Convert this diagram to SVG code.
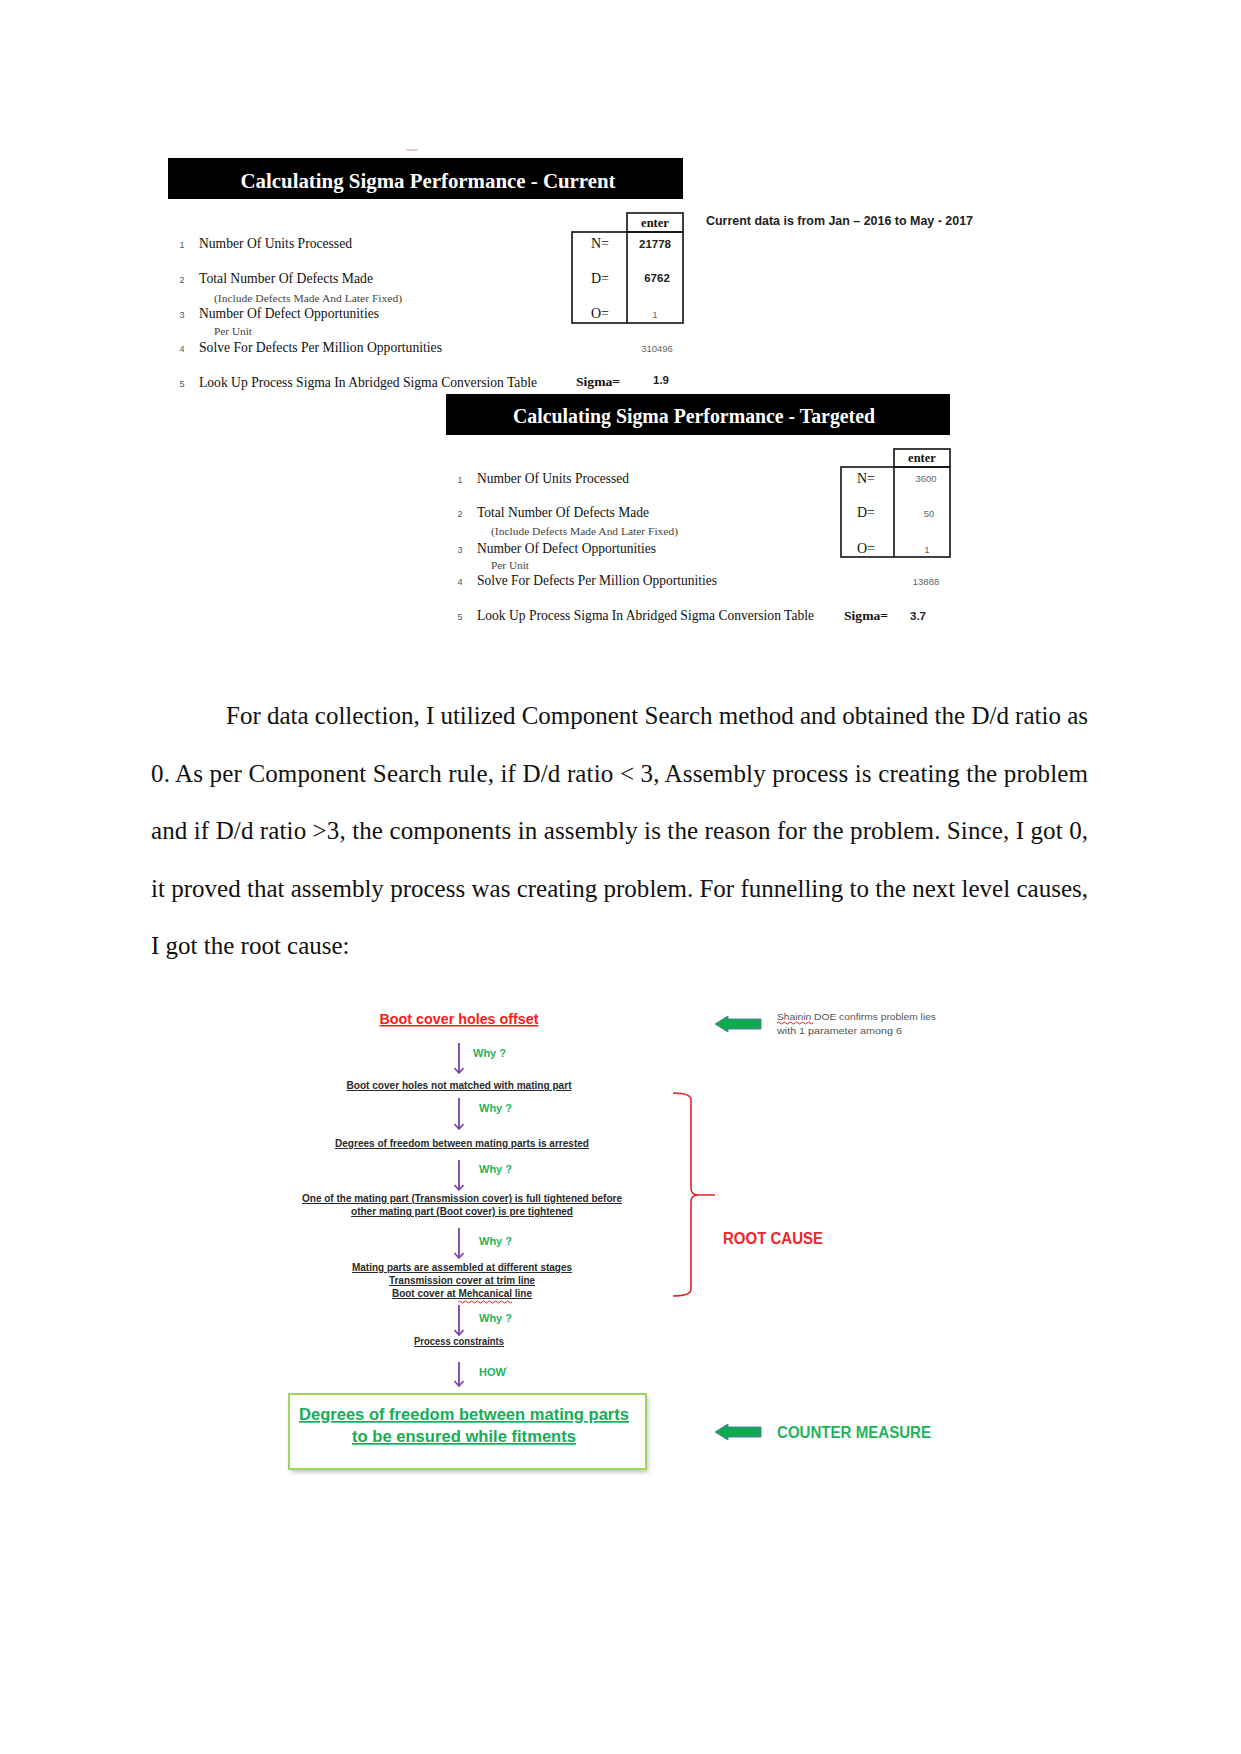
<svg xmlns="http://www.w3.org/2000/svg" width="1241" height="1754" viewBox="0 0 1241 1754">
<style>
.hdr{font-family:"Liberation Serif",serif;font-weight:bold;font-size:20px;fill:#fff;text-anchor:middle}
.row{font-family:"Liberation Serif",serif;font-size:14px;fill:#111}
.sub{font-family:"Liberation Serif",serif;font-size:9.5px;fill:#444}
.num{font-family:"Liberation Sans",sans-serif;font-size:9px;fill:#555;text-anchor:middle}
.lab{font-family:"Liberation Serif",serif;font-size:14px;fill:#111;text-anchor:middle}
.ent{font-family:"Liberation Serif",serif;font-weight:bold;font-size:12.5px;fill:#111;text-anchor:middle}
.val{font-family:"Liberation Sans",sans-serif;font-weight:bold;font-size:11.5px;fill:#222;text-anchor:middle}
.gval{font-family:"Liberation Sans",sans-serif;font-size:9.5px;fill:#666;text-anchor:middle}
.sig{font-family:"Liberation Serif",serif;font-weight:bold;font-size:13px;fill:#111}
.box{fill:none;stroke:#111;stroke-width:1.6}
.para{font-family:"Liberation Serif",serif;font-size:25px;fill:#111}
.node{font-family:"Liberation Sans",sans-serif;font-weight:bold;font-size:10px;fill:#2a2a2a;text-anchor:middle;text-decoration:underline}
.why{font-family:"Liberation Sans",sans-serif;font-weight:bold;font-size:11px;fill:#1fb35a}
.conn{stroke:#7a3fb0;stroke-width:1.8;fill:none}
.garrow{fill:#11a850;stroke:#4a7fa8;stroke-width:1}
.squig{fill:none;stroke:#e02020;stroke-width:1}
</style>
<defs>
<marker id="ah" viewBox="0 0 10 10" refX="9" refY="5" markerWidth="10" markerHeight="10" markerUnits="userSpaceOnUse" orient="auto">
<path d="M4,0.5 L9,5 L4,9.5" fill="none" stroke="#7a3fb0" stroke-width="1.6"/>
</marker>
<filter id="sh" x="-10%" y="-20%" width="120%" height="140%">
<feGaussianBlur stdDeviation="2.5"/>
</filter>
</defs>
<rect width="1241" height="1754" fill="#fff"/>

<g id="top-mark"><line x1="406" y1="150" x2="418" y2="150" stroke="#c99" stroke-width="1"/></g>

<g id="table-current">
<rect x="168" y="158" width="515" height="41" fill="#000"/>
<text class="hdr" x="428" y="188" textLength="375" lengthAdjust="spacingAndGlyphs">Calculating Sigma Performance - Current</text>
<rect class="box" x="627" y="213" width="56" height="19"/>
<rect class="box" x="572" y="232" width="111" height="91"/>
<line class="box" x1="627" y1="232" x2="627" y2="323"/>
<text class="ent" x="655" y="227">enter</text>
<text class="num" x="182" y="248">1</text>
<text class="row" x="199" y="248" textLength="153" lengthAdjust="spacingAndGlyphs">Number Of Units Processed</text>
<text class="num" x="182" y="283">2</text>
<text class="row" x="199" y="283" textLength="174" lengthAdjust="spacingAndGlyphs">Total Number Of Defects Made</text>
<text class="sub" x="214" y="302" textLength="188" lengthAdjust="spacingAndGlyphs">(Include Defects Made And Later Fixed)</text>
<text class="num" x="182" y="318">3</text>
<text class="row" x="199" y="318" textLength="180" lengthAdjust="spacingAndGlyphs">Number Of Defect Opportunities</text>
<text class="sub" x="214" y="335" textLength="38" lengthAdjust="spacingAndGlyphs">Per Unit</text>
<text class="num" x="182" y="352">4</text>
<text class="row" x="199" y="352" textLength="243" lengthAdjust="spacingAndGlyphs">Solve For Defects Per Million Opportunities</text>
<text class="num" x="182" y="387">5</text>
<text class="row" x="199" y="387" textLength="338" lengthAdjust="spacingAndGlyphs">Look Up Process Sigma In Abridged Sigma Conversion Table</text>
<text class="lab" x="600" y="248">N=</text>
<text class="lab" x="600" y="283">D=</text>
<text class="lab" x="600" y="318">O=</text>
<text class="val" x="655" y="248">21778</text>
<text class="val" x="657" y="282">6762</text>
<text class="gval" x="655" y="318">1</text>
<text class="gval" x="657" y="352">310496</text>
<text class="sig" x="576" y="386" textLength="44" lengthAdjust="spacingAndGlyphs">Sigma=</text>
<text class="val" x="661" y="384">1.9</text>
</g>

<g id="note-current-data">
<text x="706" y="225" font-family="Liberation Sans, sans-serif" font-size="12px" font-weight="bold" fill="#222" textLength="267" lengthAdjust="spacingAndGlyphs">Current data is from Jan – 2016 to May - 2017</text>
</g>

<g id="table-targeted">
<rect x="446" y="394" width="504" height="41" fill="#000"/>
<text class="hdr" x="694" y="423" textLength="362" lengthAdjust="spacingAndGlyphs">Calculating Sigma Performance - Targeted</text>
<rect class="box" x="894" y="449" width="56" height="18"/>
<rect class="box" x="841" y="467" width="109" height="90"/>
<line class="box" x1="894" y1="467" x2="894" y2="557"/>
<text class="ent" x="922" y="462">enter</text>
<text class="num" x="460" y="483">1</text>
<text class="row" x="477" y="483" textLength="152" lengthAdjust="spacingAndGlyphs">Number Of Units Processed</text>
<text class="num" x="460" y="517">2</text>
<text class="row" x="477" y="517" textLength="172" lengthAdjust="spacingAndGlyphs">Total Number Of Defects Made</text>
<text class="sub" x="491" y="535" textLength="187" lengthAdjust="spacingAndGlyphs">(Include Defects Made And Later Fixed)</text>
<text class="num" x="460" y="553">3</text>
<text class="row" x="477" y="553" textLength="179" lengthAdjust="spacingAndGlyphs">Number Of Defect Opportunities</text>
<text class="sub" x="491" y="569" textLength="38" lengthAdjust="spacingAndGlyphs">Per Unit</text>
<text class="num" x="460" y="585">4</text>
<text class="row" x="477" y="585" textLength="240" lengthAdjust="spacingAndGlyphs">Solve For Defects Per Million Opportunities</text>
<text class="num" x="460" y="620">5</text>
<text class="row" x="477" y="620" textLength="337" lengthAdjust="spacingAndGlyphs">Look Up Process Sigma In Abridged Sigma Conversion Table</text>
<text class="lab" x="866" y="483">N=</text>
<text class="lab" x="866" y="517">D=</text>
<text class="lab" x="866" y="553">O=</text>
<text class="gval" x="926" y="482">3600</text>
<text class="gval" x="929" y="517">50</text>
<text class="gval" x="927" y="553">1</text>
<text class="gval" x="926" y="585">13888</text>
<text class="sig" x="844" y="620" textLength="44" lengthAdjust="spacingAndGlyphs">Sigma=</text>
<text class="val" x="918" y="620" font-size="10px">3.7</text>
</g>

<g id="paragraph">
<text class="para" x="226" y="724" textLength="862" lengthAdjust="spacing">For data collection, I utilized Component Search method and obtained the D/d ratio as</text>
<text class="para" x="151" y="781.5" textLength="937" lengthAdjust="spacing">0. As per Component Search rule, if D/d ratio &lt; 3, Assembly process is creating the problem</text>
<text class="para" x="151" y="839" textLength="937" lengthAdjust="spacing">and if D/d ratio &gt;3, the components in assembly is the reason for the problem. Since, I got 0,</text>
<text class="para" x="151" y="896.5" textLength="937" lengthAdjust="spacing">it proved that assembly process was creating problem. For funnelling to the next level causes,</text>
<text class="para" x="151" y="954">I got the root cause:</text>
</g>

<g id="connectors">
<line class="conn" x1="459" y1="1043" x2="459" y2="1073" marker-end="url(#ah)"/>
<line class="conn" x1="459" y1="1098" x2="459" y2="1129" marker-end="url(#ah)"/>
<line class="conn" x1="459" y1="1160" x2="459" y2="1190" marker-end="url(#ah)"/>
<line class="conn" x1="459" y1="1228" x2="459" y2="1258" marker-end="url(#ah)"/>
<line class="conn" x1="459" y1="1305" x2="459" y2="1335" marker-end="url(#ah)"/>
<line class="conn" x1="459" y1="1362" x2="459" y2="1386" marker-end="url(#ah)"/>
<text class="why" x="473" y="1057">Why ?</text>
<text class="why" x="479" y="1112">Why ?</text>
<text class="why" x="479" y="1173">Why ?</text>
<text class="why" x="479" y="1245">Why ?</text>
<text class="why" x="479" y="1322">Why ?</text>
<text class="why" x="479" y="1376" font-size="10.5px">HOW<tspan font-size="6px" dy="-5">'</tspan></text>
</g>

<g id="node-problem">
<text x="459" y="1024" font-family="Liberation Sans, sans-serif" font-weight="bold" font-size="15px" fill="#ff1a1a" text-anchor="middle" text-decoration="underline" textLength="159" lengthAdjust="spacingAndGlyphs">Boot cover holes offset</text>
</g>
<g id="node-why1">
<text class="node" x="459" y="1089" textLength="225" lengthAdjust="spacingAndGlyphs">Boot cover holes not matched with mating part</text>
</g>
<g id="node-why2">
<text class="node" x="462" y="1147" textLength="254" lengthAdjust="spacingAndGlyphs">Degrees of freedom between mating parts is arrested</text>
</g>
<g id="node-why3">
<text class="node" x="462" y="1202" textLength="320" lengthAdjust="spacingAndGlyphs">One of the mating part (Transmission cover) is full tightened before</text>
<text class="node" x="462" y="1215" textLength="222" lengthAdjust="spacingAndGlyphs">other mating part (Boot cover) is pre tightened</text>
</g>
<g id="node-why4">
<text class="node" x="462" y="1271" textLength="220" lengthAdjust="spacingAndGlyphs">Mating parts are assembled at different stages</text>
<text class="node" x="462" y="1284" textLength="146" lengthAdjust="spacingAndGlyphs">Transmission cover at trim line</text>
<text class="node" x="462" y="1297" textLength="140" lengthAdjust="spacingAndGlyphs">Boot cover at Mehcanical line</text>
<path class="squig" d="M458,1302 q1.5,-2 3,0 t3,0 t3,0 t3,0 t3,0 t3,0 t3,0 t3,0 t3,0 t3,0 t3,0 t3,0 t3,0 t3,0 t3,0 t3,0 t3,0 t3,0"/>
</g>
<g id="node-why5">
<text class="node" x="459" y="1345" textLength="90" lengthAdjust="spacingAndGlyphs">Process constraints</text>
</g>
<g id="node-countermeasure">
<rect x="291" y="1397" width="357" height="75" fill="#bbb" filter="url(#sh)"/>
<rect x="289" y="1394" width="357" height="75" fill="#fff" stroke="#9fd35f" stroke-width="2"/>
<text x="464" y="1420" font-family="Liberation Sans, sans-serif" font-weight="bold" font-size="17px" fill="#17ad55" text-anchor="middle" text-decoration="underline" textLength="330" lengthAdjust="spacingAndGlyphs">Degrees of freedom between mating parts</text>
<text x="464" y="1442" font-family="Liberation Sans, sans-serif" font-weight="bold" font-size="17px" fill="#17ad55" text-anchor="middle" text-decoration="underline" textLength="224" lengthAdjust="spacingAndGlyphs">to be ensured while fitments</text>
</g>

<g id="note-shainin">
<path class="garrow" d="M715,1024 L728,1016 L728,1019 L761,1019 L761,1029 L728,1029 L728,1032 Z"/>
<text x="777" y="1020" font-family="Liberation Sans, sans-serif" font-size="9.5px" fill="#555" textLength="159" lengthAdjust="spacingAndGlyphs">Shainin DOE confirms problem lies</text>
<text x="777" y="1034" font-family="Liberation Sans, sans-serif" font-size="9.5px" fill="#555" textLength="125" lengthAdjust="spacingAndGlyphs">with 1 parameter among 6</text>
<path class="squig" d="M777,1023 q1.5,-2 3,0 t3,0 t3,0 t3,0 t3,0 t3,0 t3,0 t3,0 t3,0 t3,0 t3,0 t3,0"/>
</g>

<g id="root-cause">
<path d="M673,1093 Q691,1093 691,1100 L691,1188 Q691,1195 698,1195 L715,1195 M698,1195 Q691,1195 691,1202 L691,1289 Q691,1296 673,1296" fill="none" stroke="#e8202a" stroke-width="1.6"/>
<text x="723" y="1244" font-family="Liberation Sans, sans-serif" font-weight="bold" font-size="16px" fill="#f0242c" textLength="100" lengthAdjust="spacingAndGlyphs">ROOT CAUSE</text>
</g>

<g id="counter-measure-label">
<path class="garrow" d="M715,1432 L728,1424 L728,1427 L761,1427 L761,1437 L728,1437 L728,1440 Z"/>
<text x="777" y="1438" font-family="Liberation Sans, sans-serif" font-weight="bold" font-size="16px" fill="#1fb35a" textLength="154" lengthAdjust="spacingAndGlyphs">COUNTER MEASURE</text>
</g>
</svg>
